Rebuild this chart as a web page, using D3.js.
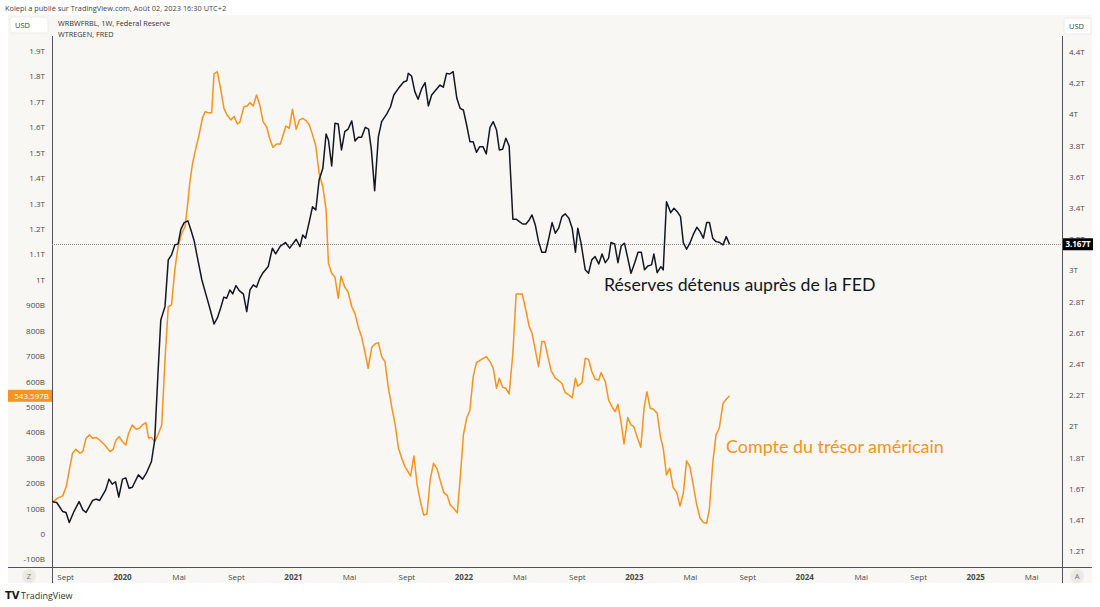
<!DOCTYPE html>
<html>
<head>
<meta charset="utf-8">
<script src="https://cdn.jsdelivr.net/npm/d3@7"></script>
<style>
  html, body { margin: 0; padding: 0; background: #fff; }
  svg { display: block; font-family: "Open Sans", "DejaVu Sans", sans-serif; }
</style>
</head>
<body>
<svg id="chart" width="1100" height="607"></svg>
<script>
// WRBWFRBL, weekly, trillions USD (right axis)
const reserves = [
  ["2019-08-03",1.517],["2019-08-14",1.511],["2019-08-27",1.453],["2019-09-03",1.447],["2019-09-10",1.383],
  ["2019-09-20",1.453],["2019-10-01",1.517],["2019-10-09",1.464],["2019-10-16",1.447],["2019-10-30",1.524],
  ["2019-11-06",1.533],["2019-11-14",1.524],["2019-11-27",1.592],["2019-12-04",1.661],["2019-12-11",1.629],
  ["2019-12-18",1.644],["2019-12-25",1.546],["2020-01-02",1.661],["2020-01-09",1.669],["2020-01-16",1.603],
  ["2020-01-23",1.609],["2020-02-05",1.688],["2020-02-14",1.661],["2020-02-22",1.699],["2020-03-04",1.774],
  ["2020-03-11",1.913],["2020-03-18",2.340],["2020-03-24",2.682],["2020-04-02",2.767],["2020-04-09",3.067],
  ["2020-04-16",3.099],["2020-04-23",3.163],["2020-04-30",3.169],["2020-05-06",3.263],["2020-05-13",3.306],
  ["2020-05-21",3.317],["2020-05-27",3.263],["2020-06-03",3.195],["2020-06-10",3.088],["2020-06-20",2.938],
  ["2020-06-30",2.831],["2020-07-07",2.757],["2020-07-16",2.656],["2020-07-23",2.693],["2020-07-30",2.757],
  ["2020-08-06",2.828],["2020-08-12",2.821],["2020-08-19",2.874],["2020-08-25",2.849],["2020-09-01",2.902],
  ["2020-09-08",2.870],["2020-09-17",2.847],["2020-09-24",2.735],["2020-10-01",2.874],["2020-10-08",2.906],
  ["2020-10-15",2.892],["2020-10-22",2.949],["2020-10-29",2.985],["2020-11-09",3.024],["2020-11-18",3.142],
  ["2020-11-25",3.105],["2020-12-05",3.155],["2020-12-16",3.178],["2020-12-25",3.142],["2021-01-08",3.199],
  ["2021-01-16",3.152],["2021-01-22",3.227],["2021-01-28",3.206],["2021-02-05",3.312],["2021-02-12",3.408],
  ["2021-02-19",3.387],["2021-02-26",3.579],["2021-03-06",3.654],["2021-03-13",3.874],["2021-03-18",3.836],
  ["2021-03-25",3.669],["2021-04-01",3.943],["2021-04-08",3.938],["2021-04-15",3.772],["2021-04-22",3.889],
  ["2021-04-29",3.905],["2021-05-07",3.958],["2021-05-14",3.829],["2021-05-21",3.853],["2021-05-28",3.853],
  ["2021-06-05",3.917],["2021-06-12",3.905],["2021-06-18",3.772],["2021-06-25",3.511],["2021-07-03",3.857],
  ["2021-07-10",3.953],["2021-07-21",4.003],["2021-07-29",4.049],["2021-08-05",4.124],["2021-08-15",4.167],
  ["2021-08-26",4.208],["2021-09-02",4.216],["2021-09-05",4.263],["2021-09-12",4.246],["2021-09-19",4.146],
  ["2021-09-26",4.097],["2021-10-04",4.167],["2021-10-11",4.203],["2021-10-18",4.054],["2021-10-25",4.124],
  ["2021-11-03",4.156],["2021-11-12",4.188],["2021-11-19",4.174],["2021-11-26",4.263],["2021-12-03",4.259],
  ["2021-12-10",4.274],["2021-12-18",4.103],["2021-12-25",4.039],["2022-01-01",4.028],["2022-01-08",3.932],
  ["2022-01-15",3.825],["2022-01-22",3.825],["2022-01-29",3.757],["2022-02-05",3.793],["2022-02-12",3.793],
  ["2022-02-19",3.746],["2022-02-27",3.917],["2022-03-06",3.953],["2022-03-13",3.900],["2022-03-19",3.772],
  ["2022-03-26",3.776],["2022-04-02",3.847],["2022-04-09",3.797],["2022-04-17",3.328],["2022-04-24",3.328],
  ["2022-05-01",3.312],["2022-05-08",3.297],["2022-05-15",3.297],["2022-05-22",3.323],["2022-05-28",3.355],
  ["2022-06-04",3.291],["2022-06-11",3.184],["2022-06-18",3.116],["2022-06-26",3.116],["2022-07-03",3.206],
  ["2022-07-10",3.306],["2022-07-17",3.238],["2022-07-24",3.270],["2022-07-31",3.344],["2022-08-07",3.362],
  ["2022-08-15",3.334],["2022-08-22",3.270],["2022-08-29",3.116],["2022-09-03",3.270],["2022-09-10",3.174],
  ["2022-09-19",3.003],["2022-09-26",2.981],["2022-10-03",3.067],["2022-10-10",3.088],["2022-10-18",3.041],
  ["2022-10-25",3.105],["2022-11-01",3.049],["2022-11-08",3.078],["2022-11-13",3.178],["2022-11-21",3.169],
  ["2022-11-28",3.049],["2022-12-05",3.156],["2022-12-12",3.174],["2022-12-19",3.078],["2022-12-26",2.981],
  ["2023-01-03",3.049],["2023-01-10",3.116],["2023-01-17",3.116],["2023-01-24",3.003],["2023-01-31",3.028],
  ["2023-02-08",3.035],["2023-02-13",3.105],["2023-02-20",2.985],["2023-02-28",3.024],["2023-03-05",3.003],
  ["2023-03-12",3.440],["2023-03-21",3.370],["2023-03-28",3.398],["2023-04-04",3.376],["2023-04-11",3.344],
  ["2023-04-17",3.178],["2023-04-24",3.135],["2023-05-01",3.174],["2023-05-08",3.227],["2023-05-16",3.276],
  ["2023-05-23",3.248],["2023-05-30",3.206],["2023-06-06",3.306],["2023-06-12",3.306],["2023-06-19",3.206],
  ["2023-06-26",3.184],["2023-07-03",3.180],["2023-07-11",3.163],["2023-07-18",3.216],["2023-07-25",3.167]
];

// WTREGEN, weekly, billions USD (left axis)
const treasury = [
  ["2019-08-03",121],["2019-08-15",140],["2019-08-27",150],["2019-09-04",189],["2019-09-10",252],
  ["2019-09-17",318],["2019-09-24",333],["2019-10-03",318],["2019-10-09",324],["2019-10-16",377],
  ["2019-10-23",390],["2019-10-30",377],["2019-11-06",380],["2019-11-14",370],["2019-11-23",354],
  ["2019-11-29",341],["2019-12-06",324],["2019-12-13",333],["2019-12-19",370],["2019-12-26",383],
  ["2020-01-02",363],["2020-01-09",350],["2020-01-15",396],["2020-01-23",429],["2020-01-31",412],
  ["2020-02-07",416],["2020-02-14",429],["2020-02-21",438],["2020-02-27",377],["2020-03-04",380],
  ["2020-03-11",363],["2020-03-18",390],["2020-03-26",429],["2020-04-02",685],["2020-04-09",894],
  ["2020-04-16",901],["2020-04-23",1039],["2020-04-30",1130],["2020-05-08",1183],["2020-05-15",1209],
  ["2020-05-20",1288],["2020-05-25",1380],["2020-05-31",1458],["2020-06-07",1517],["2020-06-14",1570],
  ["2020-06-21",1635],["2020-06-27",1661],["2020-07-04",1657],["2020-07-11",1657],["2020-07-16",1810],
  ["2020-07-23",1819],["2020-07-30",1753],["2020-08-06",1675],["2020-08-13",1648],["2020-08-21",1629],
  ["2020-08-28",1642],["2020-09-04",1613],["2020-09-09",1618],["2020-09-18",1681],["2020-09-25",1684],
  ["2020-10-01",1697],["2020-10-08",1684],["2020-10-15",1727],["2020-10-22",1688],["2020-10-29",1622],
  ["2020-11-06",1600],["2020-11-12",1557],["2020-11-19",1521],["2020-11-27",1534],["2020-12-05",1534],
  ["2020-12-17",1605],["2020-12-24",1596],["2020-12-31",1671],["2021-01-08",1592],["2021-01-15",1629],
  ["2021-01-22",1635],["2021-01-29",1626],["2021-02-05",1609],["2021-02-12",1570],["2021-02-19",1526],
  ["2021-02-26",1419],["2021-03-06",1366],["2021-03-13",1275],["2021-03-18",1065],["2021-03-25",1026],
  ["2021-04-01",1010],["2021-04-08",927],["2021-04-14",1015],["2021-04-22",971],["2021-04-29",953],
  ["2021-05-07",894],["2021-05-14",866],["2021-05-21",813],["2021-05-28",776],["2021-06-04",717],
  ["2021-06-11",652],["2021-06-19",735],["2021-06-26",748],["2021-07-03",753],["2021-07-10",698],
  ["2021-07-17",678],["2021-07-24",580],["2021-08-01",495],["2021-08-08",429],["2021-08-15",337],
  ["2021-08-22",298],["2021-08-29",265],["2021-09-10",228],["2021-09-17",307],["2021-09-24",193],
  ["2021-10-01",127],["2021-10-08",75],["2021-10-15",79],["2021-10-22",215],["2021-10-29",278],
  ["2021-11-06",255],["2021-11-13",206],["2021-11-20",163],["2021-11-27",153],["2021-12-04",114],
  ["2021-12-11",101],["2021-12-19",84],["2021-12-26",239],["2022-01-01",390],["2022-01-08",455],
  ["2022-01-15",488],["2022-01-22",619],["2022-01-29",674],["2022-02-09",687],["2022-02-19",698],
  ["2022-02-27",678],["2022-03-06",652],["2022-03-13",573],["2022-03-19",613],["2022-03-26",577],
  ["2022-04-02",573],["2022-04-09",551],["2022-04-17",711],["2022-04-24",944],["2022-05-01",944],
  ["2022-05-07",944],["2022-05-14",888],["2022-05-22",816],["2022-05-28",790],["2022-06-04",724],
  ["2022-06-11",658],["2022-06-18",757],["2022-06-24",757],["2022-07-01",698],["2022-07-08",642],
  ["2022-07-17",613],["2022-07-24",603],["2022-07-31",593],["2022-08-07",556],["2022-08-15",547],
  ["2022-08-22",536],["2022-08-29",613],["2022-09-03",582],["2022-09-12",595],["2022-09-19",691],
  ["2022-09-26",687],["2022-10-03",639],["2022-10-10",609],["2022-10-18",606],["2022-10-23",635],
  ["2022-11-01",599],["2022-11-08",527],["2022-11-15",501],["2022-11-22",481],["2022-11-28",510],
  ["2022-12-05",436],["2022-12-11",354],["2022-12-19",458],["2022-12-26",429],["2023-01-01",422],
  ["2023-01-09",377],["2023-01-16",341],["2023-01-23",495],["2023-01-29",560],["2023-02-05",495],
  ["2023-02-12",491],["2023-02-20",475],["2023-02-27",383],["2023-03-05",337],["2023-03-12",232],
  ["2023-03-19",259],["2023-03-26",184],["2023-04-03",163],["2023-04-10",110],["2023-04-17",160],
  ["2023-04-24",288],["2023-05-01",265],["2023-05-08",196],["2023-05-15",121],["2023-05-23",62],
  ["2023-05-30",45],["2023-06-06",42],["2023-06-12",101],["2023-06-19",278],["2023-06-26",390],
  ["2023-07-03",416],["2023-07-11",514],["2023-07-18",530],["2023-07-25",543.597]
];

const leftTicks = [-100,0,100,200,300,400,500,600,700,800,900,1000,1100,1200,1300,1400,1500,1600,1700,1800,1900];
const rightTicks = [1.2,1.4,1.6,1.8,2,2.2,2.4,2.6,2.8,3,3.2,3.4,3.6,3.8,4,4.2,4.4];
const monthNames = { 4: 'Mai', 8: 'Sept' };
const legendLines = ['WRBWFRBL, 1W, Federal Reserve', 'WTREGEN, FRED'];
const headerText = 'Kolepi a publié sur TradingView.com, Août 02, 2023 16:30 UTC+2';
const reservesLabel = 'Réserves détenus auprès de la FED';
const treasuryLabel = 'Compte du trésor américain';

const ORANGE = '#f7931e';
const INK = '#131722';
const PANE = { left: 52, right: 1062, top: 15, bottom: 567 };

const parse = d3.utcParse('%Y-%m-%d');
const svg = d3.select('#chart');

const x = d3.scaleUtc()
  .domain([parse('2019-08-04'), parse('2025-07-06')])
  .range([PANE.left, PANE.right]);
const yLeft = d3.scaleLinear().domain([0, 1900]).range([534, 51]);
const yRight = d3.scaleLinear().domain([1.2, 4.4]).range([551, 52]);

const fmtLeft = (v) => v === 0 ? '0' : Math.abs(v) >= 1000 ? `${d3.format('~g')(v / 1000)}T` : `${v}B`;
const fmtRight = (v) => `${d3.format('~g')(v)}T`;

// frame
svg.append('rect').attr('x', 8).attr('y', 15).attr('width', 1084).attr('height', 568).attr('fill', '#f8f7f3');
svg.append('text').attr('x', 5).attr('y', 11).attr('font-size', 7.4).attr('fill', '#444').text(headerText);

// clip for the pane
svg.append('clipPath').attr('id', 'pane')
  .append('rect').attr('x', PANE.left).attr('y', PANE.top).attr('width', PANE.right - PANE.left).attr('height', PANE.bottom - PANE.top);

// left axis
const gl = svg.append('g').attr('transform', `translate(${PANE.left - 4},0)`)
  .call(d3.axisLeft(yLeft).tickValues(leftTicks).tickSize(0).tickFormat(fmtLeft));
gl.select('.domain').remove();
gl.selectAll('text').attr('font-size', 8).attr('fill', '#4a4a4a').attr('font-family', '"Open Sans", sans-serif');

// right axis (3.2T sits under the last-value label, as in the source)
const gr = svg.append('g').attr('transform', `translate(${PANE.right + 4},0)`)
  .call(d3.axisRight(yRight).tickValues(rightTicks).tickSize(0).tickFormat(fmtRight));
gr.select('.domain').remove();
gr.selectAll('text').attr('font-size', 8).attr('fill', '#4a4a4a').attr('font-family', '"Open Sans", sans-serif');

// time axis
const gx = svg.append('g').attr('transform', `translate(0,${PANE.bottom + 4})`)
  .call(d3.axisBottom(x).ticks(d3.utcMonth.every(4)).tickSize(0)
    .tickFormat((d) => d.getUTCMonth() === 0 ? d.getUTCFullYear() : monthNames[d.getUTCMonth()]));
gx.select('.domain').remove();
gx.selectAll('text').attr('font-size', 8).attr('fill', '#4a4a4a').attr('font-family', '"Open Sans", sans-serif')
  .attr('font-weight', (d) => d.getUTCMonth() === 0 ? 'bold' : 'normal');

// axis lines
svg.append('line').attr('x1', PANE.left + 0.5).attr('x2', PANE.left + 0.5).attr('y1', 36).attr('y2', 583).attr('stroke', '#50535e');
svg.append('line').attr('x1', PANE.right + 0.5).attr('x2', PANE.right + 0.5).attr('y1', 36).attr('y2', 583).attr('stroke', '#50535e');
svg.append('line').attr('x1', 8).attr('x2', 1092).attr('y1', PANE.bottom + 0.5).attr('y2', PANE.bottom + 0.5).attr('stroke', '#50535e');

// last value price line
const lastReserve = reserves[reserves.length - 1];
const lastTreasury = treasury[treasury.length - 1];
svg.append('line').attr('x1', PANE.left).attr('x2', PANE.right)
  .attr('y1', Math.round(yRight(lastReserve[1])) + 0.5).attr('y2', Math.round(yRight(lastReserve[1])) + 0.5)
  .attr('stroke', '#8d8d8d').attr('stroke-dasharray', '1,1');

// series
const plot = svg.append('g').attr('clip-path', 'url(#pane)');
plot.append('path').datum(treasury)
  .attr('fill', 'none').attr('stroke', ORANGE).attr('stroke-width', 1.5).attr('stroke-linejoin', 'round')
  .attr('d', d3.line().x((d) => x(parse(d[0]))).y((d) => yLeft(d[1])));
plot.append('path').datum(reserves)
  .attr('fill', 'none').attr('stroke', INK).attr('stroke-width', 1.5).attr('stroke-linejoin', 'round')
  .attr('d', d3.line().x((d) => x(parse(d[0]))).y((d) => yRight(d[1])));

// annotations
svg.append('text').attr('x', 604).attr('y', 291).attr('font-size', 17.7).attr('fill', INK)
  .attr('font-family', 'Lato, sans-serif').text(reservesLabel);
svg.append('text').attr('x', 726).attr('y', 453).attr('font-size', 17.9).attr('fill', ORANGE)
  .attr('font-family', 'Lato, sans-serif').text(treasuryLabel);

// legend
svg.selectAll('text.legend').data(legendLines).join('text').attr('class', 'legend')
  .attr('x', 58).attr('y', (_, i) => 26 + i * 11).attr('font-size', 7.3).attr('fill', '#333').text((d) => d);

// USD boxes
[[10, 17, 38], [1064, 18, 27]].forEach(([bx, by, bw]) => {
  svg.append('rect').attr('x', bx).attr('y', by).attr('width', bw).attr('height', 16).attr('rx', 2)
    .attr('fill', '#fff').attr('stroke', '#eeece7');
  svg.append('text').attr('x', bx + 5).attr('y', by + 11).attr('font-size', 7.5).attr('fill', '#444').text('USD');
});

// price labels
const ry = yRight(lastReserve[1]);
svg.append('rect').attr('x', PANE.right + 1).attr('y', ry - 6).attr('width', 30).attr('height', 12).attr('fill', '#000');
svg.append('text').attr('x', PANE.right + 16).attr('y', ry + 3).attr('text-anchor', 'middle')
  .attr('font-size', 8).attr('font-weight', 'bold').attr('fill', '#fff').text(`${d3.format('.3f')(lastReserve[1])}T`);
const ly = yLeft(lastTreasury[1]);
svg.append('rect').attr('x', 8).attr('y', ly - 6).attr('width', PANE.left - 8).attr('height', 12).attr('fill', ORANGE);
svg.append('text').attr('x', PANE.left - 3).attr('y', ly + 3).attr('text-anchor', 'end')
  .attr('font-size', 8).attr('fill', '#fff').text(`${d3.format('.3f')(lastTreasury[1])}B`);

// Z / A buttons
[[29, 'Z'], [1077, 'A']].forEach(([cx, t]) => {
  svg.append('circle').attr('cx', cx).attr('cy', 576).attr('r', 7).attr('fill', '#ebe9e4');
  svg.append('text').attr('x', cx).attr('y', 579).attr('text-anchor', 'middle').attr('font-size', 7.5).attr('fill', '#777').text(t);
});

// footer logo
svg.append('text').attr('x', 5).attr('y', 599).attr('font-size', 10).attr('font-weight', 'bold').attr('fill', '#131722')
  .attr('font-family', '"DejaVu Sans", sans-serif').text('TV');
svg.append('text').attr('x', 21).attr('y', 599).attr('font-size', 9).attr('fill', '#333').text('TradingView');
</script>
</body>
</html>
